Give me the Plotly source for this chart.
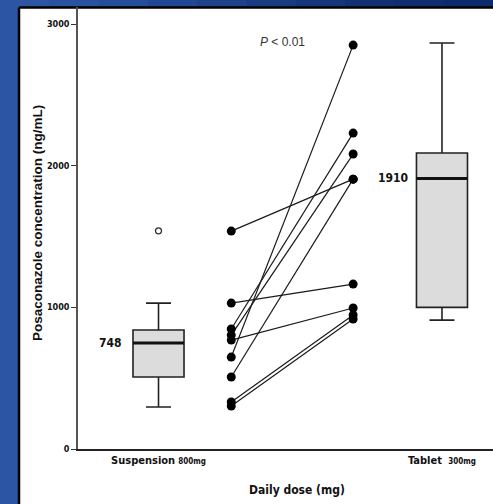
import plotly.graph_objects as go

# ---- data ----
group_labels = ["Suspension 800mg", "Tablet 300mg"]
group_x = [1.0, 4.0]
pair_x = [1.77, 3.06]

susp_stats = dict(q1=508, median=748, q3=840, lower=296, upper=1030)
susp_outliers = [1540]
tab_stats = dict(q1=1000, median=1910, q3=2089, lower=910, upper=2866)

paired_susp = [1538, 1030, 847, 804, 769, 649, 508, 332, 303]
paired_tab = [1905, 1164, 2230, 2082, 995, 2851, 1905, 946, 917]

y_ticks = [0, 1000, 2000, 3000]
p_text = "<i>P</i> < 0.01"

# ---- figure ----
fig = go.Figure()

for (gx, st) in zip(group_x, [susp_stats, tab_stats]):
    fig.add_trace(go.Box(
        x=[gx], q1=[st["q1"]], median=[st["median"]], q3=[st["q3"]],
        lowerfence=[st["lower"]], upperfence=[st["upper"]],
        width=0.54, whiskerwidth=0.49,
        fillcolor="#dcdcdc", line=dict(color="#222222", width=1.6),
        boxpoints=False, showlegend=False, hoverinfo="skip"))
    # thicker median line
    fig.add_trace(go.Scatter(
        x=[gx - 0.27, gx + 0.27], y=[st["median"], st["median"]],
        mode="lines", line=dict(color="#111111", width=3),
        showlegend=False, hoverinfo="skip"))

# outlier
fig.add_trace(go.Scatter(
    x=[group_x[0]] * len(susp_outliers), y=susp_outliers, mode="markers",
    marker=dict(symbol="circle-open", size=6, color="#333333", line=dict(width=1.3)),
    showlegend=False, hoverinfo="skip"))

# paired lines
for a, b in zip(paired_susp, paired_tab):
    fig.add_trace(go.Scatter(
        x=pair_x, y=[a, b], mode="lines",
        line=dict(color="#1a1a1a", width=1.2),
        showlegend=False, hoverinfo="skip"))
fig.add_trace(go.Scatter(
    x=[pair_x[0]] * len(paired_susp) + [pair_x[1]] * len(paired_tab),
    y=paired_susp + paired_tab, mode="markers",
    marker=dict(size=9, color="black"),
    showlegend=False, hoverinfo="skip"))

narrow = "DejaVu Sans Condensed, Liberation Sans"
sans = "Liberation Sans, Arial"

# labels
fig.add_annotation(x=0.487, y=susp_stats["median"], text="<b>748</b>", showarrow=False,
                   xanchor="center", yanchor="middle",
                   font=dict(family=narrow, size=12, color="#111"))
fig.add_annotation(x=3.48, y=tab_stats["median"], text="<b>1910</b>", showarrow=False,
                   xanchor="center", yanchor="middle",
                   font=dict(family=narrow, size=12, color="#111"))
fig.add_annotation(x=2.31, y=2870, text=p_text, showarrow=False,
                   xanchor="center", yanchor="middle",
                   font=dict(family=sans, size=12, color="#333"))
fig.add_annotation(xref="paper", yref="paper", x=(297 - 78) / 415, y=-41 / 442,
                   text="<b>Daily dose (mg)</b>", showarrow=False,
                   xanchor="center", yanchor="middle",
                   font=dict(family=narrow, size=12, color="#111"))
fig.add_annotation(xref="paper", yref="paper", x=(37 - 78) / 415, y=(449 - 223) / 442,
                   text="<b>Posaconazole concentration (ng/mL)</b>", showarrow=False,
                   textangle=-90, xanchor="center", yanchor="middle",
                   font=dict(family=sans, size=13.5, color="#111"))

ticktext_x = ["<b>Suspension</b> <b><span style='font-size:8px'>800mg</span></b>",
              "<b>Tablet</b>  <b><span style='font-size:8px'>300mg</span></b>"]

# background: blue frame and white panel
top_cols = ["#2c56a3", "#2a52a0", "#264d99", "#224792", "#1d418a", "#193b82", "#15367a", "#113173", "#0e2e6e", "#0b2b6a"]
n = len(top_cols)
for i, c in enumerate(top_cols):
    fig.add_shape(type="rect", xref="paper", yref="paper",
                  x0=(-78 + 493 * i / n) / 415, x1=(-78 + 493 * (i + 1) / n + 1) / 415,
                  y0=1 - 0.5 / 442, y1=1 + 8 / 442, fillcolor=c, line=dict(width=0), layer="below")
fig.add_shape(type="rect", xref="paper", yref="paper",
              x0=-79 / 415, x1=-59 / 415, y0=-60 / 442, y1=1, fillcolor="#2c56a3",
              line=dict(width=0), layer="below")
# black frame edges (left and top of the white panel)
fig.add_shape(type="line", xref="paper", yref="paper",
              x0=-59 / 415, x1=-59 / 415, y0=-60 / 442, y1=1 - 0.5 / 442,
              line=dict(color="black", width=2.5), layer="below")
fig.add_shape(type="line", xref="paper", yref="paper",
              x0=-59 / 415, x1=1.2, y0=1 - 0.5 / 442, y1=1 - 0.5 / 442,
              line=dict(color="black", width=2.5), layer="below")

fig.update_layout(
    width=493, height=504,
    margin=dict(l=78, r=0, t=7, b=55, pad=0, autoexpand=False),
    paper_bgcolor="white", plot_bgcolor="white",
    showlegend=False,
    xaxis=dict(range=[0.148, 4.54], tickmode="array", tickvals=group_x, ticktext=ticktext_x,
               showgrid=False, zeroline=False, showline=True, linecolor="#222", linewidth=1.6,
               ticks="", tickfont=dict(family=narrow, size=11, color="#111"),
               automargin=False, fixedrange=True),
    yaxis=dict(range=[0, 3120], tickmode="array", tickvals=y_ticks,
               ticktext=[f"<b>{v}</b>" for v in y_ticks],
               showgrid=False, zeroline=False, showline=True, linecolor="#555", linewidth=1.5,
               ticks="outside", ticklen=5, tickwidth=1.2, tickcolor="#333",
               tickfont=dict(family=narrow, size=9, color="#111"),
               automargin=False, fixedrange=True),
)

fig.write_html("out.html", config={"displayModeBar": False},
               post_script="document.body.style.margin='0';document.body.style.padding='0';document.body.style.overflow='hidden';")
